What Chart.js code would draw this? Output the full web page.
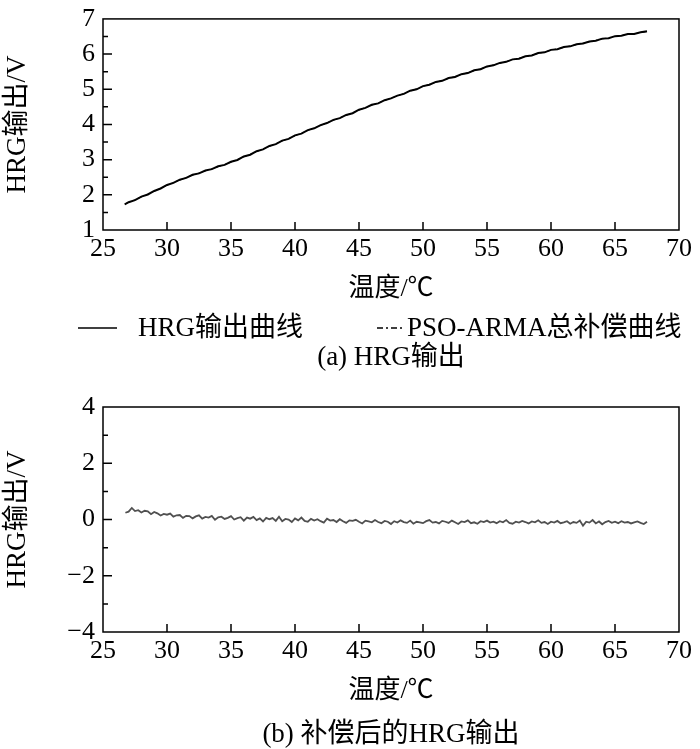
<!DOCTYPE html>
<html>
<head>
<meta charset="utf-8">
<script src="https://cdn.jsdelivr.net/npm/chart.js@4.4.1/dist/chart.umd.min.js"></script>
<style>
  body { margin: 0; background: #fff; }
  #wrap { position: relative; width: 700px; height: 749px; }
  canvas { position: absolute; left: 0; }
  #chartA { top: 0; }
  #chartB { top: 378px; }
</style>
</head>
<body>
<div id="wrap">
  <canvas id="chartA" width="700" height="380"></canvas>
  <canvas id="chartB" width="700" height="371"></canvas>
</div>
<script>
// temperature points of figure (a), degC
const tempA = [26.7,
  27, 27.5, 28, 28.5, 29, 29.5, 30, 30.5, 31, 31.5, 32, 32.5, 33, 33.5, 34, 34.5,
  35, 35.5, 36, 36.5, 37, 37.5, 38, 38.5, 39, 39.5, 40, 40.5, 41, 41.5, 42, 42.5,
  43, 43.5, 44, 44.5, 45, 45.5, 46, 46.5, 47, 47.5, 48, 48.5, 49, 49.5, 50, 50.5,
  51, 51.5, 52, 52.5, 53, 53.5, 54, 54.5, 55, 55.5, 56, 56.5, 57, 57.5, 58, 58.5,
  59, 59.5, 60, 60.5, 61, 61.5, 62, 62.5, 63, 63.5, 64, 64.5, 65, 65.5, 66, 66.5,
  67, 67.5];

// HRG output (V)
const hrgOutput = [1.73,
  1.79, 1.85, 1.95, 2.01, 2.11, 2.18, 2.28, 2.34, 2.43, 2.48, 2.57, 2.61, 2.69, 2.73, 2.81, 2.85,
  2.94, 2.99, 3.09, 3.14, 3.24, 3.29, 3.39, 3.44, 3.54, 3.59, 3.69, 3.74, 3.84, 3.89, 3.98, 4.04,
  4.13, 4.18, 4.27, 4.32, 4.42, 4.47, 4.56, 4.60, 4.69, 4.74, 4.82, 4.87, 4.96, 5.00, 5.09, 5.13,
  5.21, 5.24, 5.32, 5.35, 5.43, 5.46, 5.54, 5.57, 5.65, 5.68, 5.75, 5.78, 5.85, 5.87, 5.94, 5.96,
  6.03, 6.05, 6.12, 6.14, 6.20, 6.22, 6.28, 6.30, 6.36, 6.38, 6.44, 6.45, 6.51, 6.52, 6.57, 6.57,
  6.62, 6.65];

// PSO-ARMA total compensation curve (V), lies on top of the output
const psoArma = [1.74,
  1.78, 1.86, 1.94, 2.02, 2.10, 2.19, 2.27, 2.35, 2.42, 2.49, 2.56, 2.62, 2.68, 2.74, 2.80, 2.86,
  2.93, 3.00, 3.08, 3.15, 3.23, 3.30, 3.38, 3.45, 3.53, 3.60, 3.68, 3.75, 3.83, 3.90, 3.97, 4.05,
  4.12, 4.19, 4.26, 4.33, 4.41, 4.48, 4.55, 4.61, 4.68, 4.75, 4.81, 4.88, 4.95, 5.01, 5.08, 5.14,
  5.20, 5.25, 5.31, 5.36, 5.42, 5.47, 5.53, 5.58, 5.64, 5.69, 5.74, 5.79, 5.84, 5.88, 5.93, 5.97,
  6.02, 6.06, 6.11, 6.15, 6.19, 6.23, 6.27, 6.31, 6.35, 6.39, 6.43, 6.46, 6.50, 6.53, 6.56, 6.58,
  6.61, 6.64];

// temperature points of figure (b), degC
const tempB = [26.75,
  27, 27.25, 27.5, 27.75,  28, 28.25, 28.5, 28.75,  29, 29.25, 29.5, 29.75,
  30, 30.25, 30.5, 30.75,  31, 31.25, 31.5, 31.75,  32, 32.25, 32.5, 32.75,
  33, 33.25, 33.5, 33.75,  34, 34.25, 34.5, 34.75,  35, 35.25, 35.5, 35.75,
  36, 36.25, 36.5, 36.75,  37, 37.25, 37.5, 37.75,  38, 38.25, 38.5, 38.75,
  39, 39.25, 39.5, 39.75,  40, 40.25, 40.5, 40.75,  41, 41.25, 41.5, 41.75,
  42, 42.25, 42.5, 42.75,  43, 43.25, 43.5, 43.75,  44, 44.25, 44.5, 44.75,
  45, 45.25, 45.5, 45.75,  46, 46.25, 46.5, 46.75,  47, 47.25, 47.5, 47.75,
  48, 48.25, 48.5, 48.75,  49, 49.25, 49.5, 49.75,  50, 50.25, 50.5, 50.75,
  51, 51.25, 51.5, 51.75,  52, 52.25, 52.5, 52.75,  53, 53.25, 53.5, 53.75,
  54, 54.25, 54.5, 54.75,  55, 55.25, 55.5, 55.75,  56, 56.25, 56.5, 56.75,
  57, 57.25, 57.5, 57.75,  58, 58.25, 58.5, 58.75,  59, 59.25, 59.5, 59.75,
  60, 60.25, 60.5, 60.75,  61, 61.25, 61.5, 61.75,  62, 62.25, 62.5, 62.75,
  63, 63.25, 63.5, 63.75,  64, 64.25, 64.5, 64.75,  65, 65.25, 65.5, 65.75,
  66, 66.25, 66.5, 66.75,  67, 67.25, 67.5];

// HRG output after compensation (V)
const compensated = [0.24,
  0.28, 0.41, 0.30, 0.33,  0.25, 0.31, 0.29, 0.19,  0.27, 0.22, 0.14, 0.20,
  0.17, 0.21, 0.10, 0.15,  0.16, 0.06, 0.13, 0.12,  0.04, 0.11, 0.15, 0.03,
  0.09, 0.07, 0.13, -0.01,  0.08, 0.10, 0.02, 0.06,  0.12, 0.00, 0.05, 0.08,
  -0.04, 0.07, 0.03, 0.09,  -0.02, 0.04, -0.07, 0.06,  0.01, 0.05, -0.05, 0.10,
  -0.06, 0.02, 0.00, -0.09,  0.04, -0.03, 0.07, -0.05,  -0.08, 0.02, -0.04, 0.01,
  -0.06, -0.11, 0.03, -0.04,  -0.02, -0.09, 0.01, -0.06,  -0.12, -0.03, -0.05, -0.01,
  -0.08, -0.14, -0.04, -0.07,  -0.10, -0.02, -0.09, -0.13,  -0.05, -0.08, -0.16, -0.06,
  -0.11, -0.03, -0.09, -0.12,  -0.04, -0.15, -0.08, -0.10,  -0.13, -0.06, -0.02, -0.11,
  -0.09, -0.14, -0.05, -0.08,  -0.12, -0.04, -0.10, -0.16,  -0.07, -0.09, -0.03, -0.13,
  -0.10, -0.15, -0.06, -0.09,  -0.04, -0.11, -0.08, -0.13,  -0.06, -0.10, -0.02, -0.12,
  -0.15, -0.08, -0.11, -0.05,  -0.09, -0.14, -0.07, -0.10,  -0.03, -0.12, -0.09, -0.16,
  -0.08, -0.11, -0.05, -0.13,  -0.10, -0.06, -0.15, -0.09,  -0.12, -0.04, -0.22, -0.08,
  -0.11, -0.02, -0.14, -0.07,  -0.17, -0.09, -0.05, -0.12,  -0.08, -0.13, -0.06, -0.11,
  -0.09, -0.14, -0.10, -0.07,  -0.12, -0.16, -0.08];

const seriesNames = ['HRG输出曲线', 'PSO-ARMA总补偿曲线'];
const xTitle = '温度/℃';
const yTitle = 'HRG输出/V';
const captionA = '(a) HRG输出';
const captionB = '(b) 补偿后的HRG输出';

if (tempA.length !== hrgOutput.length || tempA.length !== psoArma.length) throw new Error('A lengths ' + tempA.length + ' ' + hrgOutput.length + ' ' + psoArma.length);
if (tempB.length !== compensated.length) throw new Error('B lengths ' + tempB.length + ' ' + compensated.length);

const FONT = "'Liberation Serif', 'Times New Roman', 'Noto Sans CJK SC', serif";

const toPoints = (xs, ys) => xs.map((x, i) => ({x: x, y: ys[i]}));

// box around plot + inward tick marks
const frameTicks = {
  id: 'frameTicks',
  afterDatasetsDraw(chart) {
    const {ctx, chartArea: a, scales: {x, y}} = chart;
    ctx.save();
    ctx.strokeStyle = '#000';
    ctx.lineWidth = 1.5;
    ctx.strokeRect(a.left, a.top, a.right - a.left, a.bottom - a.top);
    ctx.beginPath();
    x.ticks.forEach(t => {
      const px = x.getPixelForValue(t.value);
      if (px > a.left + 2 && px < a.right - 2) {
        ctx.moveTo(px, a.bottom);
        ctx.lineTo(px, a.bottom - 8);
      }
    });
    y.ticks.forEach((t, i) => {
      const py = y.getPixelForValue(t.value);
      if (py > a.top + 2 && py < a.bottom - 2) {
        ctx.moveTo(a.left, py);
        ctx.lineTo(a.left + 9, py);
      }
      if (i > 0) {
        const pm = y.getPixelForValue((t.value + y.ticks[i - 1].value) / 2);
        ctx.moveTo(a.left, pm);
        ctx.lineTo(a.left + 5, pm);
      }
    });
    ctx.stroke();
    ctx.restore();
  }
};

// legend row under the x title of chart (a)
const legendRow = {
  id: 'legendRow',
  afterDraw(chart, args, opts) {
    if (!opts.items) return;
    const ctx = chart.ctx;
    ctx.save();
    ctx.font = '27px ' + FONT;
    ctx.textBaseline = 'middle';
    ctx.fillStyle = '#000';
    opts.items.forEach(it => {
      const ds = chart.data.datasets[it.index];
      ctx.strokeStyle = '#000';
      ctx.lineWidth = 1.5;
      ctx.setLineDash(ds.borderDash || []);
      ctx.beginPath();
      ctx.moveTo(it.x0, opts.y);
      ctx.lineTo(it.x1, opts.y);
      ctx.stroke();
      ctx.setLineDash([]);
      ctx.fillText(ds.label, it.tx, opts.y + 1);
    });
    ctx.restore();
  }
};

Chart.register(frameTicks, legendRow);

function axisOptions(min, max, step, fit) {
  return {
    type: 'linear', min: min, max: max,
    grid: {display: false, drawTicks: false},
    border: {display: false},
    ticks: {
      stepSize: step, padding: 8, color: '#000',
      font: {family: FONT, size: 26, lineHeight: 0.84},
      callback: v => String(v).replace('-', '\u2212')
    },
    afterFit: fit
  };
}

function makeChart(id, datasets, yMin, yMax, yStep, pad, caption, capPad, legend) {
  const x = axisOptions(25, 70, 5, s => { s.height = 75; });
  x.title = {display: true, text: xTitle, color: '#000', font: {family: FONT, size: 26, lineHeight: 1.2}, padding: {top: 0, bottom: 0}};
  const y = axisOptions(yMin, yMax, yStep, s => { s.width = 103; });
  y.title = {display: true, text: yTitle, color: '#000', font: {family: FONT, size: 27, lineHeight: 1.2}, padding: {top: 2, bottom: 0}};
  return new Chart(document.getElementById(id), {
    type: 'line',
    data: {datasets: datasets},
    options: {
      responsive: false,
      animation: false,
      layout: {padding: pad},
      elements: {point: {radius: 0}, line: {tension: 0}},
      scales: {x: x, y: y},
      plugins: {
        legend: {display: false},
        tooltip: {enabled: false},
        title: {
          display: true, text: caption, position: 'bottom', fullSize: false,
          color: '#000', font: {family: FONT, size: 27, weight: 'normal', lineHeight: 1},
          padding: {top: capPad, bottom: 0}
        },
        legendRow: legend
      }
    }
  });
}

makeChart('chartA', [
  {label: seriesNames[0], data: toPoints(tempA, hrgOutput), borderColor: '#000', borderWidth: 2},
  {label: seriesNames[1], data: toPoints(tempA, psoArma), borderColor: '#000', borderWidth: 1, borderDash: [6, 3, 2, 3]}
], 1, 7, 1, {top: 11, right: 17, left: 0, bottom: 8.5}, captionA, 39.5, {
  y: 328,
  items: [{index: 0, x0: 78, x1: 117, tx: 138}, {index: 1, x0: 377, x1: 405, tx: 407}]
});

makeChart('chartB', [
  {label: '补偿后的HRG输出', data: toPoints(tempB, compensated), borderColor: '#505050', borderWidth: 1.8}
], -4, 4, 2, {top: 29, right: 17, left: 0, bottom: 0.5}, captionB, 14.5, {});
</script>
</body>
</html>
